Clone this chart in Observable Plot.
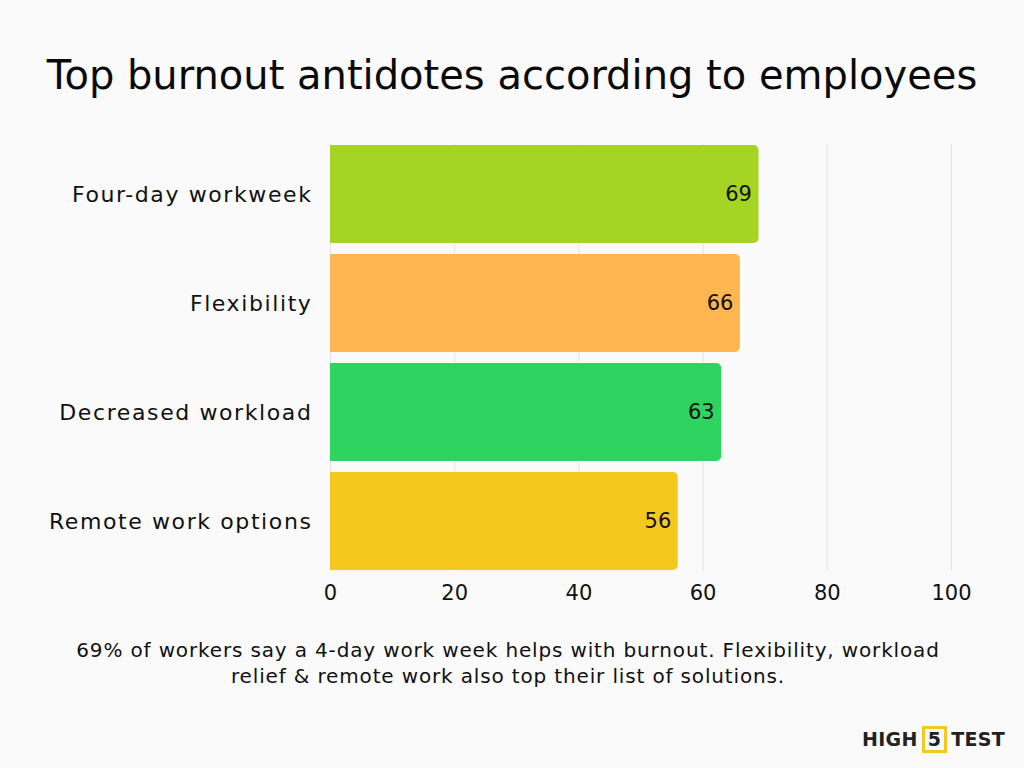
<!DOCTYPE html>
<html><head><meta charset="utf-8">
<script src="https://cdn.jsdelivr.net/npm/d3@7"></script>
<script src="https://cdn.jsdelivr.net/npm/@observablehq/plot@0.6"></script>
<style>
html,body{margin:0;padding:0;background:#fafafa;width:1024px;height:768px;overflow:hidden;font-family:"DejaVu Sans",sans-serif;color:#111;}
#title{position:absolute;left:0;top:52px;width:1024px;text-align:center;font-size:40px;font-weight:400;letter-spacing:0px;color:#0a0a0a;}
#chart{position:absolute;left:0;top:130px;}
#caption{position:absolute;left:0;top:637px;width:1016px;text-align:center;font-size:20px;line-height:26px;letter-spacing:0.85px;}
#logo{position:absolute;left:862px;top:726px;font-size:19px;font-weight:700;letter-spacing:0.3px;color:#222;}
#logo span{display:inline-block;border:3px solid #f4c81d;padding:0 3px;line-height:21px;margin:0 4px;}
</style></head>
<body>
<div id="title">Top burnout antidotes according to employees</div>
<div id="chart"></div>
<div id="caption">69% of workers say a 4-day work week helps with burnout. Flexibility, workload<br>relief &amp; remote work also top their list of solutions.</div>
<div id="logo">HIGH<span>5</span>TEST</div>
<script>
const categories = ["Four-day workweek","Flexibility","Decreased workload","Remote work options"];
const values = [69,66,63,56];
const colors = ["#a6d424","#ffb651","#2ed45f","#f4c81d"];
const xTicks = [0,20,40,60,80,100];

const data = categories.map((c,i)=>({category:c,value:values[i],color:colors[i]}));

const chart = Plot.plot({
  width:1024,
  height:480,
  marginTop:14,
  marginBottom:39,
  marginLeft:330,
  marginRight:73,
  style:{background:"transparent",fontFamily:"DejaVu Sans, sans-serif",fontSize:"21px",color:"#111"},
  x:{domain:[0,100],ticks:xTicks,tickSize:0,tickPadding:14,label:null},
  y:{domain:categories,paddingInner:0.1,paddingOuter:0,tickSize:0,tickPadding:18,label:null},
  marks:[
    Plot.ruleX(xTicks,{stroke:"#e3e3e3",strokeWidth:1}),
    Plot.barX(data,{y:"category",x:"value",fill:"color",rx2:5}),
    Plot.text(data,{y:"category",x:"value",text:d=>String(d.value),textAnchor:"end",dx:-7,fill:"#111",fontSize:21})
  ]
});
chart.querySelectorAll('g[aria-label="y-axis tick label"] text').forEach(t=>{t.style.letterSpacing="1.6px";t.style.fontSize="22px";});
document.getElementById("chart").appendChild(chart);
</script>
</body></html>
